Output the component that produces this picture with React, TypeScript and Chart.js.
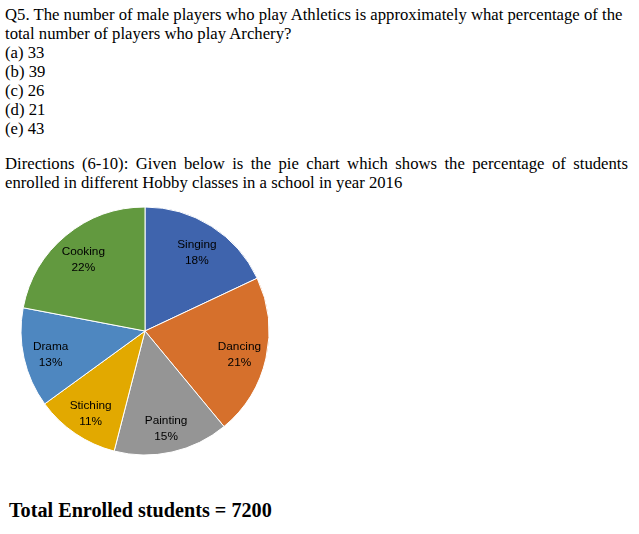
import React, { useEffect, useRef } from "react";
import { Chart, registerables } from "chart.js";

Chart.register(...registerables);

const hobbies = ["Singing", "Dancing", "Painting", "Stiching", "Drama", "Cooking"];
const percents = [18, 21, 15, 11, 13, 22];
const sliceColors = ["#3F64AD", "#D6702C", "#959595", "#E2A900", "#4E87C0", "#62993F"];

const questionLines = [
  "Q5. The number of male players who play Athletics is approximately what percentage of the",
  "total number of players who play Archery?",
  "(a) 33",
  "(b) 39",
  "(c) 26",
  "(d) 21",
  "(e) 43",
];
const directionLines = [
  "Directions (6-10): Given below is the pie chart which shows the percentage of students",
  "enrolled in different Hobby classes in a school in year 2016",
];
const totalText = "Total Enrolled students = 7200";

const serif = '"Liberation Serif", "Times New Roman", serif';

const labelPlugin = {
  id: "sliceLabels",
  afterDatasetsDraw(chart: any) {
    const ctx = chart.ctx;
    const meta = chart.getDatasetMeta(0);
    ctx.save();
    ctx.font = '11.8px "Liberation Sans", Arial, sans-serif';
    ctx.fillStyle = "#000";
    ctx.textAlign = "center";
    ctx.textBaseline = "middle";
    meta.data.forEach((arc: any, i: number) => {
      const p = arc.getProps(["x", "y", "startAngle", "endAngle", "outerRadius"], true);
      const mid = (p.startAngle + p.endAngle) / 2;
      const r = p.outerRadius * 0.78;
      const cx = p.x + Math.cos(mid) * r;
      const cy = p.y + Math.sin(mid) * r + 3;
      ctx.fillText(hobbies[i], cx, cy - 8);
      ctx.fillText(percents[i] + "%", cx, cy + 8);
    });
    ctx.restore();
  },
};

function PieChart() {
  const ref = useRef<HTMLCanvasElement | null>(null);
  useEffect(() => {
    if (!ref.current) return;
    const chart = new Chart(ref.current, {
      type: "pie",
      data: {
        labels: hobbies,
        datasets: [
          {
            data: percents,
            backgroundColor: sliceColors,
            borderColor: "#ffffff",
            borderWidth: 1,
            hoverOffset: 0,
            radius: 124,
          } as any,
        ],
      },
      options: {
        animation: false,
        responsive: false,
        maintainAspectRatio: false,
        layout: { padding: 0 },
        plugins: { legend: { display: false }, tooltip: { enabled: false } },
        events: [],
      },
      plugins: [labelPlugin],
    });
    return () => chart.destroy();
  }, []);
  return (
    <canvas
      ref={ref}
      width={270}
      height={270}
      style={{ position: "absolute", left: 145 - 135, top: 331 - 135, width: 270, height: 270 }}
    />
  );
}

export default function App() {
  const lineStyle = (top: number): React.CSSProperties => ({
    position: "absolute",
    left: 5,
    top,
    fontFamily: serif,
    fontSize: "16.7px",
    lineHeight: "19px",
    color: "#000",
    whiteSpace: "nowrap",
    margin: 0,
  });
  return (
    <div style={{ position: "absolute", left: 0, top: 0, width: 639, height: 534, background: "#fff", overflow: "hidden" }}>
      {questionLines.map((t, i) => (
        <div key={"q" + i} style={lineStyle(5 + 19 * i)}>{t}</div>
      ))}
      <div style={{ ...lineStyle(154), width: 623, whiteSpace: "normal", textAlign: "justify", textAlignLast: "justify" as any }}>
        {directionLines[0]}
      </div>
      <div style={lineStyle(173)}>{directionLines[1]}</div>
      <PieChart />
      <div
        style={{
          position: "absolute",
          left: 9,
          top: 499,
          fontFamily: serif,
          fontSize: "20.2px",
          lineHeight: "23px",
          fontWeight: "bold",
          color: "#000",
          whiteSpace: "nowrap",
        }}
      >
        {totalText}
      </div>
    </div>
  );
}
